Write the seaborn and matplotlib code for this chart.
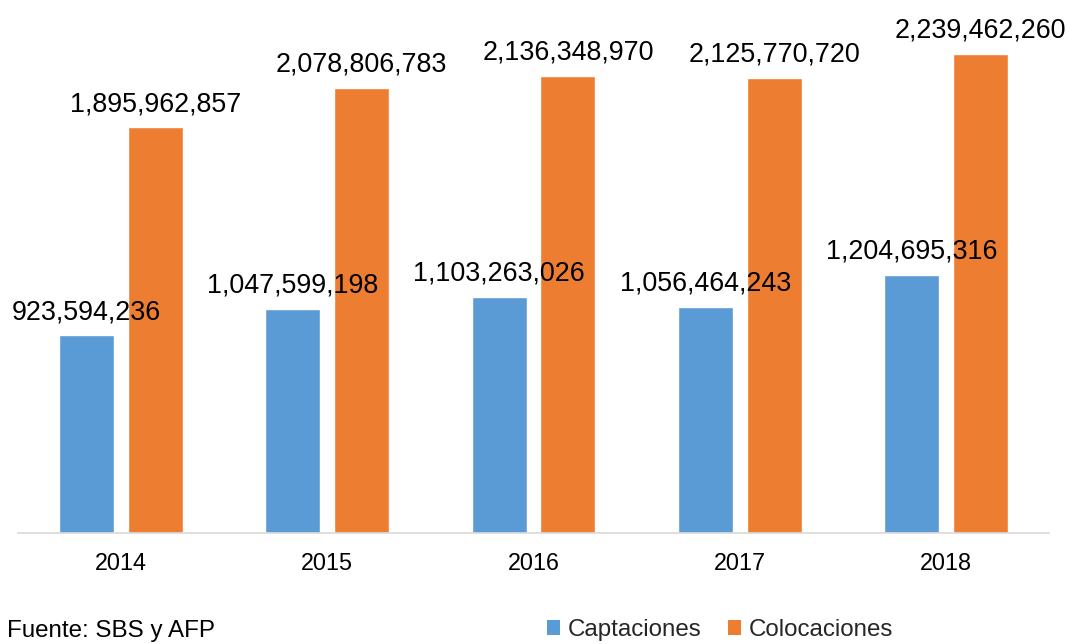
import matplotlib
matplotlib.use("Agg")
import matplotlib.pyplot as plt
from matplotlib.patches import Patch
import pandas as pd
import seaborn as sns

# Yearly totals (soles)
years = ["2014", "2015", "2016", "2017", "2018"]
captaciones = [923594236, 1047599198, 1103263026, 1056464243, 1204695316]
colocaciones = [1895962857, 2078806783, 2136348970, 2125770720, 2239462260]
series_names = ["Captaciones", "Colocaciones"]
colors = ["#5B9BD5", "#ED7D31"]

df = pd.DataFrame({
    "Año": years * 2,
    "Serie": [series_names[0]] * len(years) + [series_names[1]] * len(years),
    "Monto": captaciones + colocaciones,
})

sns.set_theme(style="white")
plt.rcParams["font.family"] = ["Liberation Sans", "DejaVu Sans"]

fig = plt.figure(figsize=(10.69, 6.44), dpi=100)
ax = fig.add_axes([18 / 1069, (644 - 533) / 644, (1049 - 18) / 1069, (533 - 8) / 644])

sns.barplot(data=df, x="Año", y="Monto", hue="Serie", palette=colors,
            width=0.667, gap=0.2, saturation=1, legend=False, ax=ax)

for container in ax.containers:
    ax.bar_label(container, labels=[f"{v:,.0f}" for v in container.datavalues],
                 padding=7.5, fontsize=19.4, color="#000000")

ax.set_xlim(-0.5, 4.5)
ax.set_ylim(0, (533 - 8) / 213.9 * 1e9)
ax.set_xlabel("")
ax.set_ylabel("")
ax.set_yticks([])
ax.tick_params(axis="x", length=0, pad=13.5, labelsize=16.8, labelcolor="#000000")
for side in ["top", "left", "right"]:
    ax.spines[side].set_visible(False)
ax.spines["bottom"].set_color("#D9D9D9")
ax.spines["bottom"].set_linewidth(1.2)

handles = [Patch(facecolor=c, edgecolor="none") for c in colors]
fig.legend(handles, series_names, loc="center", bbox_to_anchor=(720 / 1069, (644 - 630) / 644),
           ncol=2, frameon=False, fontsize=17.4, handlelength=0.55, handleheight=0.6,
           handletextpad=0.3, columnspacing=1.1, borderaxespad=0, borderpad=0)

# Source note along the bottom edge
fig.text(7 / 1069, 1.5 / 644, "Fuente: SBS y AFP", fontsize=17.4,
         va="bottom", ha="left", color="#000000")

fig.savefig("out.png", dpi=100)
